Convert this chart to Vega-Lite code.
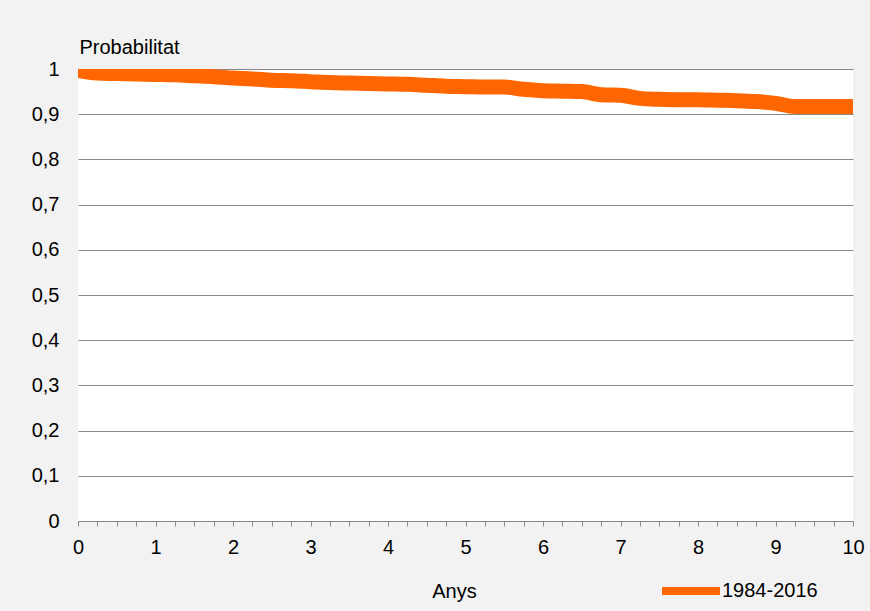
{
  "$schema": "https://vega.github.io/schema/vega-lite/v6.json",
  "autosize": {"type": "none"},
  "width": 775,
  "height": 452,
  "padding": {"left": 78, "top": 69, "right": 17, "bottom": 90},
  "background": "#f2f2f2",
  "config": {
    "view": {"fill": "white", "stroke": null}
  },
  "data": {"values": [
    {"t": 0, "p": 0.997, "s": "1984-2016"},
    {"t": 0.25, "p": 0.991, "s": "1984-2016"},
    {"t": 0.5, "p": 0.990, "s": "1984-2016"},
    {"t": 0.75, "p": 0.989, "s": "1984-2016"},
    {"t": 1.0, "p": 0.988, "s": "1984-2016"},
    {"t": 1.25, "p": 0.987, "s": "1984-2016"},
    {"t": 1.5, "p": 0.985, "s": "1984-2016"},
    {"t": 1.75, "p": 0.983, "s": "1984-2016"},
    {"t": 2.0, "p": 0.980, "s": "1984-2016"},
    {"t": 2.25, "p": 0.978, "s": "1984-2016"},
    {"t": 2.5, "p": 0.975, "s": "1984-2016"},
    {"t": 2.75, "p": 0.974, "s": "1984-2016"},
    {"t": 3.0, "p": 0.972, "s": "1984-2016"},
    {"t": 3.25, "p": 0.970, "s": "1984-2016"},
    {"t": 3.5, "p": 0.969, "s": "1984-2016"},
    {"t": 3.75, "p": 0.968, "s": "1984-2016"},
    {"t": 4.0, "p": 0.967, "s": "1984-2016"},
    {"t": 4.25, "p": 0.966, "s": "1984-2016"},
    {"t": 4.5, "p": 0.964, "s": "1984-2016"},
    {"t": 4.75, "p": 0.962, "s": "1984-2016"},
    {"t": 5.0, "p": 0.961, "s": "1984-2016"},
    {"t": 5.25, "p": 0.960, "s": "1984-2016"},
    {"t": 5.5, "p": 0.960, "s": "1984-2016"},
    {"t": 5.75, "p": 0.955, "s": "1984-2016"},
    {"t": 6.0, "p": 0.952, "s": "1984-2016"},
    {"t": 6.25, "p": 0.951, "s": "1984-2016"},
    {"t": 6.5, "p": 0.950, "s": "1984-2016"},
    {"t": 6.75, "p": 0.943, "s": "1984-2016"},
    {"t": 7.0, "p": 0.942, "s": "1984-2016"},
    {"t": 7.25, "p": 0.935, "s": "1984-2016"},
    {"t": 7.5, "p": 0.933, "s": "1984-2016"},
    {"t": 7.75, "p": 0.932, "s": "1984-2016"},
    {"t": 8.0, "p": 0.932, "s": "1984-2016"},
    {"t": 8.25, "p": 0.931, "s": "1984-2016"},
    {"t": 8.5, "p": 0.930, "s": "1984-2016"},
    {"t": 8.75, "p": 0.928, "s": "1984-2016"},
    {"t": 9.0, "p": 0.924, "s": "1984-2016"},
    {"t": 9.25, "p": 0.917, "s": "1984-2016"},
    {"t": 9.5, "p": 0.917, "s": "1984-2016"},
    {"t": 9.75, "p": 0.917, "s": "1984-2016"},
    {"t": 10, "p": 0.917, "s": "1984-2016"}
  ]},
  "mark": {"type": "line", "strokeWidth": 15, "strokeCap": "round", "strokeJoin": "round", "interpolate": "monotone", "clip": true},
  "encoding": {
    "x": {
      "field": "t", "type": "quantitative",
      "scale": {"domain": [0, 10], "nice": false, "zero": false},
      "axis": {
        "values": [0,0.25,0.5,0.75,1,1.25,1.5,1.75,2,2.25,2.5,2.75,3,3.25,3.5,3.75,4,4.25,4.5,4.75,5,5.25,5.5,5.75,6,6.25,6.5,6.75,7,7.25,7.5,7.75,8,8.25,8.5,8.75,9,9.25,9.5,9.75,10],
        "labelExpr": "datum.value % 1 === 0 ? format(datum.value, 'd') : ''",
        "grid": false,
        "domainColor": "#888888", "tickColor": "#888888", "tickSize": 5,
        "labelPadding": 11, "labelFlush": false, "labelOverlap": false,
        "labelFont": "Liberation Sans", "labelFontSize": 20, "labelColor": "black",
        "titleFont": "Liberation Sans", "titleFontSize": 20, "titleColor": "black", "titleFontWeight": "normal",
        "title": "Anys", "titleX": 376, "titleY": 76, "titleBaseline": "alphabetic", "titleAlign": "center"
      }
    },
    "y": {
      "field": "p", "type": "quantitative",
      "scale": {"domain": [0, 1], "nice": false},
      "axis": {
        "values": [0,0.1,0.2,0.3,0.4,0.5,0.6,0.7,0.8,0.9,1],
        "labelExpr": "replace(format(datum.value, '.1~f'), '.', ',')",
        "grid": true, "gridColor": "#888888", "gridWidth": 1,
        "domain": false, "ticks": false, "labelPadding": 19,
        "labelFont": "Liberation Sans", "labelFontSize": 20, "labelColor": "black",
        "titleFont": "Liberation Sans", "titleFontSize": 20, "titleColor": "black", "titleFontWeight": "normal",
        "title": "Probabilitat", "titleAngle": 0, "titleX": 1, "titleY": -16, "titleAlign": "left", "titleBaseline": "alphabetic"
      }
    },
    "color": {
      "field": "s", "type": "nominal",
      "scale": {"range": ["#ff6600"]},
      "legend": {"title": null, "orient": "none", "legendX": 580, "legendY": 489, "symbolType": "stroke", "symbolSize": 3364, "symbolStrokeWidth": 8, "labelOffset": -2, "labelFont": "Liberation Sans", "labelFontSize": 20, "labelColor": "black"}
    }
  }
}
